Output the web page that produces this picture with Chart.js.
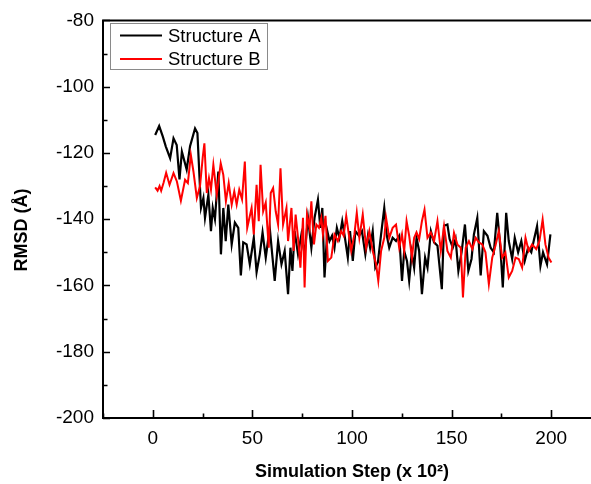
<!DOCTYPE html>
<html>
<head>
<meta charset="utf-8">
<script src="https://cdn.jsdelivr.net/npm/chart.js@4.4.0/dist/chart.umd.min.js"></script>
<style>
  html, body { margin: 0; padding: 0; overflow: hidden; background: #fff; }
  #wrap { width: 610px; height: 484px; }
</style>
</head>
<body>
<div id="wrap"><canvas id="rmsdChart"></canvas></div>
<script>
// values (step in units of 10^2, RMSD in Å)
const stepsA = [1.2,3.2,5,6.5,8.7,10.4,12,13.4,14.6,17,18.7,21.2,22.4,23.7,24.2,25.4,26.2,27.9,29.2,30.1,31.2,32.9,34.2,35.4,36.6,37.9,39.6,41.2,42.9,44.2,45.4,47.1,48.7,50.7,52.1,53.7,55.1,56.7,58.7,60.1,61.2,62.9,64.6,66.2,67.9,69.1,70.1,71.2,72.9,74.6,76.2,77.9,79.6,81.2,82.9,84.1,85.1,86.2,87.6,88.7,90,91.2,92.4,93.7,95.1,96.2,97.9,99,100.4,101.7,103.5,105,106.7,108,109.1,110.4,111.7,113,114.6,116.2,117.5,118.7,120.4,122.1,123.7,125.1,126.2,127.6,128.7,130,131.2,132.4,133.7,135.1,136.7,137.9,139.6,141.2,142.9,145.1,146.2,147.9,149,150.6,152,153.4,155,156.7,158.4,160,161.2,162.9,164.6,166.2,168,169.6,171.2,172.9,174.5,175.7,177.4,178.7,180.4,181.7,183.4,185,186.7,188.4,190,191.2,192.9,194.6,195.9,197.9,199.6];
const rmsdA = [-114.6,-111.9,-115,-118,-121.6,-115.6,-117.6,-128,-119.6,-125,-118,-112.6,-114,-130.6,-136.6,-133.6,-139.6,-132.6,-143.6,-136.6,-140,-125.6,-150.6,-136.6,-146.6,-135.6,-147.6,-141,-142.6,-157,-147,-147.6,-153.6,-145.6,-156,-150.6,-144,-151.6,-142.6,-151.6,-158.6,-146.6,-153.6,-149.6,-162.6,-148.6,-155.6,-143.6,-150.6,-144.6,-150.6,-139.6,-148.6,-139.6,-134.1,-142.6,-136.6,-157.6,-143.6,-146.6,-145,-148.6,-142.6,-145.6,-140.6,-144.6,-151.6,-143.6,-152.6,-143.6,-145,-143.6,-150.6,-145,-148.6,-143.6,-154.6,-153,-144.6,-136.6,-145,-148.6,-145.6,-146.6,-145,-158.6,-149.6,-152.6,-158.6,-150,-154.6,-145.6,-149.6,-162.6,-151.6,-154.6,-143.6,-147,-148,-161.1,-142,-141.6,-146,-148.6,-146,-155.6,-150,-141.6,-155.6,-152,-144.6,-139.6,-157,-143.6,-145,-148.6,-150,-138.1,-148.6,-160.6,-138.1,-146.6,-152,-145.6,-150,-146.6,-152.6,-148.6,-150,-146.6,-142.1,-154.1,-150,-153.6,-144.6];

const stepsB = [1.2,2.4,3.4,4.2,5.4,6.7,8.4,10.4,12.1,14.1,16.2,17.6,19.1,20.4,22.1,23.7,25.1,25.9,27.1,28.2,29.2,30.4,32.1,34.1,35.4,36.7,38.1,39.6,40.9,42.1,43.4,44.8,46.2,47.4,49.6,50.7,52.1,53.2,54.1,55.4,56.7,58.2,59.2,60.4,61.7,62.9,64.1,65.4,67.1,67.9,69.6,70.7,71.7,72.9,74.1,75.4,76.2,77.4,78.7,79.6,80.9,82.1,83.4,84.6,85.4,86.7,87.9,89.6,91.2,92.9,94.6,95.8,97.1,98.4,99.6,101.2,102.4,103.7,105.4,107.1,108.7,110.4,112.1,113.2,114.6,116.2,117.1,118.7,120.4,122.1,123.7,125.1,126.2,127.4,128.7,130.1,131.2,132.4,133.7,135.1,136.4,137.9,139.6,141.2,142.9,144.6,146.2,147.9,149.6,151.2,152.9,154.6,155.7,157.1,158.7,160.4,162.1,163.7,165.4,167,168.7,170.4,172,173.7,175.4,177,178.7,180.4,182.1,183.7,185.4,187.1,188.7,190.4,192.5,194.1,195.7,197.1,198.7,200.1];
const rmsdB = [-130.4,-131.4,-130,-131.4,-129,-126,-129.6,-126.1,-128.6,-134.4,-128.1,-129.1,-120.6,-125.6,-133.6,-130,-121.1,-117.1,-132.1,-127.6,-131.1,-123.6,-132.6,-123.1,-126.6,-134.6,-129.1,-135.6,-131.6,-135.6,-131.1,-134,-122.6,-142.6,-136.6,-144.6,-129.6,-140.6,-123.6,-137.6,-135,-148.6,-132.1,-130.6,-137.6,-141.6,-124.6,-141.6,-136.6,-146.6,-136.6,-149.6,-138.6,-145.6,-154.6,-139.6,-160.6,-138.6,-142.6,-134.6,-147.6,-141.6,-142.6,-139.6,-144.6,-139,-152.6,-151.6,-144.6,-146.6,-143.6,-145,-139,-144.6,-149.6,-144.6,-138.1,-145.6,-138.6,-148.6,-143.6,-149.6,-153.6,-158.6,-149.6,-145.6,-139.6,-145.6,-142.6,-141.6,-148.6,-144.6,-149.6,-140.6,-145,-151.6,-145.6,-144,-146,-140.6,-137.1,-145.6,-144,-146.6,-140.6,-149.6,-142.1,-149.6,-151.6,-144.1,-147.6,-148.6,-163.6,-148.6,-146.6,-149,-145.6,-147,-147.6,-150,-159.6,-151.6,-148,-143.6,-151.6,-150,-157.6,-155.6,-151.6,-152,-154.6,-145.6,-149.6,-147.6,-149,-146.6,-140.1,-147.6,-151.6,-153.1];

const seriesNames = ['Structure A', 'Structure B'];
const seriesColors = ['#000000', '#ff0000'];
const xTicks = [0, 50, 100, 150, 200];
const yTicks = [-200, -180, -160, -140, -120, -100, -80];

const toPoints = (xs, ys) => xs.map((x, i) => ({ x: x, y: ys[i] }));

// frame, inward ticks, legend box and axis titles (Origin style)
const originFrame = {
  id: 'originFrame',
  afterDraw(chart) {
    const ctx = chart.ctx;
    const a = chart.chartArea;
    const xs = chart.scales.x, ys = chart.scales.y;
    ctx.save();
    ctx.strokeStyle = '#000';
    ctx.lineWidth = 2;
    ctx.beginPath();
    ctx.moveTo(a.left, a.top); ctx.lineTo(a.right, a.top);
    ctx.moveTo(a.left, a.top - 1); ctx.lineTo(a.left, a.bottom + 1);
    ctx.moveTo(a.left - 1, a.bottom); ctx.lineTo(a.right, a.bottom);
    ctx.stroke();

    ctx.lineWidth = 1.6;
    ctx.beginPath();
    for (let v = -200; v <= -80; v += 10) {
      const len = v % 20 === 0 ? 7 : 4.5;
      const py = Math.round(ys.getPixelForValue(v)) + 0.5;
      ctx.moveTo(a.left, py); ctx.lineTo(a.left + len, py);
    }
    for (let v = -25; v <= 225; v += 25) {
      const len = v % 50 === 0 ? 8 : 4.5;
      const px = Math.round(xs.getPixelForValue(v)) + 0.5;
      ctx.moveTo(px, a.bottom); ctx.lineTo(px, a.bottom - len);
    }
    ctx.stroke();

    // legend
    ctx.fillStyle = '#fff';
    ctx.fillRect(110, 23, 157, 46);
    ctx.strokeStyle = '#8a8a8a';
    ctx.lineWidth = 1;
    ctx.strokeRect(110.5, 23.5, 157, 46);
    ctx.font = '18.5px "Liberation Sans", Arial, sans-serif';
    ctx.textBaseline = 'middle';
    ctx.textAlign = 'left';
    seriesNames.forEach((name, i) => {
      const ly = 35.5 + i * 23.5;
      ctx.strokeStyle = seriesColors[i];
      ctx.lineWidth = 2;
      ctx.beginPath();
      ctx.moveTo(120, ly); ctx.lineTo(162, ly);
      ctx.stroke();
      ctx.fillStyle = '#000';
      ctx.fillText(name, 168, ly + 1);
    });

    // axis titles
    ctx.fillStyle = '#000';
    ctx.font = 'bold 18px "Liberation Sans", Arial, sans-serif';
    ctx.textAlign = 'center';
    ctx.fillText('Simulation Step (x 10\u00B2)', 352, 472);
    ctx.translate(22, 230);
    ctx.rotate(-Math.PI / 2);
    ctx.fillText('RMSD (\u00C5)', 0, 0);
    ctx.restore();
  }
};

new Chart(document.getElementById('rmsdChart'), {
  type: 'line',
  data: {
    datasets: [
      {
        label: seriesNames[0],
        data: toPoints(stepsA, rmsdA),
        borderColor: seriesColors[0],
        borderWidth: 2.2,
        pointRadius: 0,
        tension: 0,
        order: 1
      },
      {
        label: seriesNames[1],
        data: toPoints(stepsB, rmsdB),
        borderColor: seriesColors[1],
        borderWidth: 2,
        pointRadius: 0,
        tension: 0,
        order: 0
      }
    ]
  },
  options: {
    responsive: true,
    maintainAspectRatio: false,
    animation: false,
    layout: { padding: { top: 18, right: 7, left: 0, bottom: 0 } },
    plugins: {
      legend: { display: false },
      tooltip: { enabled: false }
    },
    scales: {
      x: {
        type: 'linear',
        min: -25,
        max: 225,
        afterFit: (s) => { s.height = 66; },
        grid: { display: false, drawTicks: false },
        border: { display: false },
        ticks: {
          stepSize: 25,
          autoSkip: false,
          maxRotation: 0,
          padding: 9,
          color: '#000',
          font: { family: '"Liberation Sans", Arial, sans-serif', size: 19 },
          callback: (v) => xTicks.includes(v) ? String(v) : ''
        }
      },
      y: {
        min: -200,
        max: -80,
        afterFit: (s) => { s.width = 103; },
        grid: { display: false, drawTicks: false },
        border: { display: false },
        ticks: {
          stepSize: 20,
          padding: 9,
          color: '#000',
          font: { family: '"Liberation Sans", Arial, sans-serif', size: 19 },
          callback: (v) => yTicks.includes(v) ? String(v) : ''
        }
      }
    }
  },
  plugins: [originFrame]
});
</script>
</body>
</html>
